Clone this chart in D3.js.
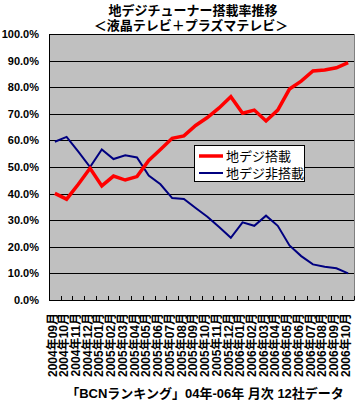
<!DOCTYPE html>
<html>
<head>
<meta charset="utf-8">
<script src="https://cdn.jsdelivr.net/npm/d3@7"></script>
<style>
  body { margin: 0; background: #fff; }
  svg text { font-family: "Liberation Sans", "Noto Sans CJK JP", sans-serif; font-weight: bold; fill: #000; }
</style>
</head>
<body>
<svg id="chart" width="362" height="406"></svg>
<script>
// months on the x axis
var months = ["2004年09月","2004年10月","2004年11月","2004年12月",
  "2005年01月","2005年02月","2005年03月","2005年04月","2005年05月","2005年06月",
  "2005年07月","2005年08月","2005年09月","2005年10月","2005年11月","2005年12月",
  "2006年01月","2006年02月","2006年03月","2006年04月","2006年05月","2006年06月",
  "2006年07月","2006年08月","2006年09月","2006年10月"];

// share with digital tuner (%)
var withTuner = [40.1, 37.9, 43.5, 49.5, 42.9, 46.6, 45.1, 46.4, 52.5, 56.6, 60.8, 61.7, 65.6,
  68.6, 72.2, 76.4, 70.2, 71.4, 67.3, 71.4, 79.3, 82.3, 86.1, 86.5, 87.3, 89.2];
// share without digital tuner (%)
var withoutTuner = [59.5, 61.3, 55.8, 50.0, 56.6, 53.0, 54.4, 53.6, 46.8, 43.5, 38.3, 38.0, 34.6,
  31.3, 27.4, 23.4, 29.2, 27.9, 31.7, 27.9, 20.5, 16.5, 13.4, 12.5, 11.9, 10.0];

var yTicks = [0, 10, 20, 30, 40, 50, 60, 70, 80, 90, 100];
var seriesNames = ["地デジ搭載", "地デジ非搭載"];

var svg = d3.select("#chart");
var plotL = 49, plotR = 354, plotT = 34, plotB = 300;

var x = d3.scaleBand().domain(months).range([plotL, plotR]).padding(0);
var y = d3.scaleLinear().domain([0, 100]).range([plotB, plotT]);

// Plot area
svg.append("rect")
    .attr("x", plotL + 0.5).attr("y", plotT + 0.5)
    .attr("width", plotR - plotL).attr("height", plotB - plotT)
    .attr("fill", "#c0c0c0")
    .attr("stroke", "#808080");

// Gridlines
svg.append("g").selectAll("line")
    .data(yTicks)
  .enter().append("line")
    .attr("x1", plotL).attr("x2", plotR)
    .attr("y1", d => Math.round(y(d)) + 0.5).attr("y2", d => Math.round(y(d)) + 0.5)
    .attr("stroke", "#000");

// Left axis line
svg.append("line")
    .attr("x1", plotL + 0.5).attr("x2", plotL + 0.5)
    .attr("y1", plotT).attr("y2", plotB + 1)
    .attr("stroke", "#000");

// Y labels
svg.append("g").selectAll("text")
    .data(yTicks)
  .enter().append("text")
    .attr("x", 39)
    .attr("y", d => y(d))
    .attr("dy", "0.36em")
    .attr("text-anchor", "end")
    .style("font-size", "11px")
    .text(d => d.toFixed(1) + "%");

// X ticks (inside, at category boundaries)
var bounds = months.map(m => x(m)).concat([plotR]);
svg.append("g").selectAll("line")
    .data(bounds.slice(1))
  .enter().append("line")
    .attr("x1", d => Math.round(d) + 0.5).attr("x2", d => Math.round(d) + 0.5)
    .attr("y1", plotB - 4).attr("y2", plotB)
    .attr("stroke", "#000");

// X labels
svg.append("g").selectAll("text")
    .data(months)
  .enter().append("text")
    .attr("transform", d => "translate(" + (x(d) + x.bandwidth() / 2 - 2.5) + ",313) rotate(-90)")
    .attr("dy", "0.35em")
    .attr("text-anchor", "end")
    .style("font-size", "12px")
    .text(d => d);

// Lines
var line = d3.line()
    .x((d, i) => x(months[i]) + x.bandwidth() / 2)
    .y(d => y(d));

svg.append("path")
    .datum(withoutTuner)
    .attr("d", line)
    .attr("fill", "none")
    .attr("stroke", "#000080")
    .attr("stroke-width", 2);

svg.append("path")
    .datum(withTuner)
    .attr("d", line)
    .attr("fill", "none")
    .attr("stroke", "#ff0000")
    .attr("stroke-width", 3.5);

// Legend
var legend = svg.append("g");
legend.append("rect")
    .attr("x", 194.5).attr("y", 145.5)
    .attr("width", 110).attr("height", 36)
    .attr("fill", "#fff").attr("stroke", "#000");
var legendColors = ["#ff0000", "#000080"];
var legendWidths = [3.5, 2];
seriesNames.forEach(function(name, i) {
    var ly = 156 + i * 17;
    legend.append("line")
        .attr("x1", 199).attr("x2", 223)
        .attr("y1", ly).attr("y2", ly)
        .attr("stroke", legendColors[i])
        .attr("stroke-width", legendWidths[i]);
    legend.append("text")
        .attr("x", 226).attr("y", ly)
        .attr("dy", "0.36em")
        .style("font-size", "13px")
        .style("font-weight", "normal")
        .text(name);
});

// Titles
svg.append("text")
    .attr("x", 193).attr("y", 15)
    .attr("text-anchor", "middle")
    .style("font-size", "13px")
    .text("地デジチューナー搭載率推移");
svg.append("text")
    .attr("x", 191).attr("y", 30)
    .attr("text-anchor", "middle")
    .style("font-size", "13px")
    .text("＜液晶テレビ＋プラズマテレビ＞");

// Footer
svg.append("text")
    .attr("x", 205).attr("y", 398)
    .attr("text-anchor", "middle")
    .style("font-size", "13px")
    .text("「BCNランキング」04年-06年 月次 12社データ");
</script>
</body>
</html>
